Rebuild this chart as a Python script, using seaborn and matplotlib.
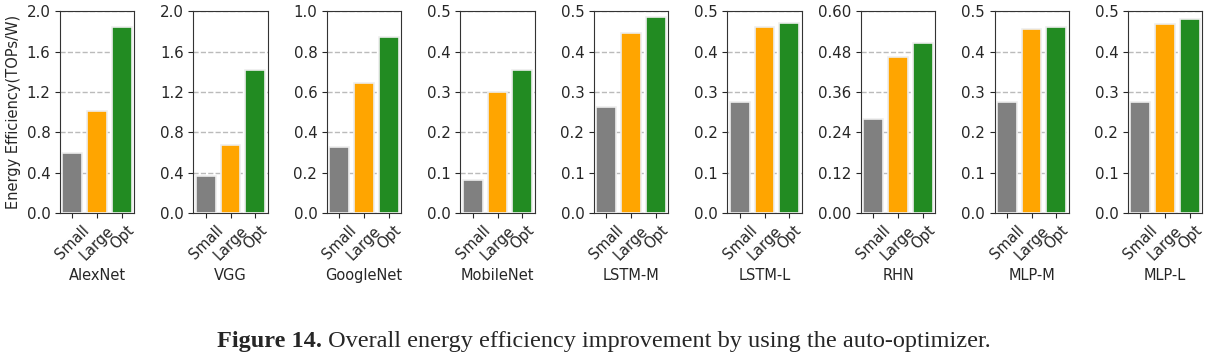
import numpy as np
import pandas as pd
import matplotlib
matplotlib.use("Agg")
import matplotlib.pyplot as plt
import seaborn as sns

# data
models = ["AlexNet", "VGG", "GoogleNet", "MobileNet", "LSTM-M", "LSTM-L", "RHN", "MLP-M", "MLP-L"]
configs = ["Small", "Large", "Opt"]
small = [0.60, 0.37, 0.325, 0.083, 0.262, 0.275, 0.280, 0.276, 0.276]
large = [1.01, 0.67, 0.645, 0.300, 0.445, 0.460, 0.463, 0.455, 0.467]
opt = [1.84, 1.42, 0.870, 0.355, 0.485, 0.470, 0.505, 0.460, 0.480]
ymax = [2.0, 2.0, 1.0, 0.5, 0.5, 0.5, 0.6, 0.5, 0.5]
colors = ["grey", "orange", "forestgreen"]


def main():
    sns.set_style("ticks")
    plt.rcParams["font.family"] = ["DejaVu Sans"]
    plt.rcParams["font.size"] = 10.5

    rows = []
    for i, m in enumerate(models):
        for c, v in zip(configs, [small[i], large[i], opt[i]]):
            rows.append({"model": m, "config": c, "value": v})
    df = pd.DataFrame(rows)

    fig, axes = plt.subplots(1, 9, figsize=(12.07, 3.6), dpi=100)
    fig.subplots_adjust(left=0.0497, right=0.996, bottom=0.408, top=0.969, wspace=0.80)

    for i, (ax, m) in enumerate(zip(axes, models)):
        sub = df[df.model == m]
        sns.barplot(data=sub, x="config", y="value", hue="config", palette=colors,
                    order=configs, hue_order=configs, saturation=1, legend=False,
                    edgecolor="#eeeeee", linewidth=1.2, ax=ax, zorder=3)
        ax.set_ylim(0, ymax[i])
        ticks = np.linspace(0, ymax[i], 6)
        ax.set_yticks(ticks)
        if m == "RHN":
            ax.set_yticklabels([f"{t:.2f}" for t in ticks])
        else:
            ax.set_yticklabels([f"{t:.1f}" for t in ticks])
        ax.yaxis.grid(True, linestyle="--", color="#bbbbbb", linewidth=1, zorder=0)
        ax.set_axisbelow(True)
        ax.tick_params(axis="x", labelrotation=45, labelsize=10.5)
        ax.tick_params(axis="y", labelsize=10.8)
        ax.set_xlabel(m, fontsize=10.5)
        for s in ax.spines.values():
            s.set_visible(True)
            s.set_color("#333333")
        if i == 0:
            ax.set_ylabel("Energy Efficiency(TOPs/W)", fontsize=10.5)
        else:
            ax.set_ylabel("")

    # caption with bold lead-in
    fig.canvas.draw()
    r = fig.canvas.get_renderer()
    lead = fig.text(0, 0.036, "Figure 14.", fontsize=17.5, fontweight="bold",
                    family="Liberation Serif", va="baseline")
    rest = fig.text(0, 0.036, " Overall energy efficiency improvement by using the auto-optimizer.",
                    fontsize=17.5, family="Liberation Serif", va="baseline")
    w1 = lead.get_window_extent(r).width
    w2 = rest.get_window_extent(r).width
    W = fig.bbox.width
    x0 = (W - w1 - w2) / 2 / W
    lead.set_x(x0)
    rest.set_x(x0 + w1 / W)

    fig.savefig("out.png", dpi=100)
    plt.close(fig)


if __name__ == "__main__":
    main()
